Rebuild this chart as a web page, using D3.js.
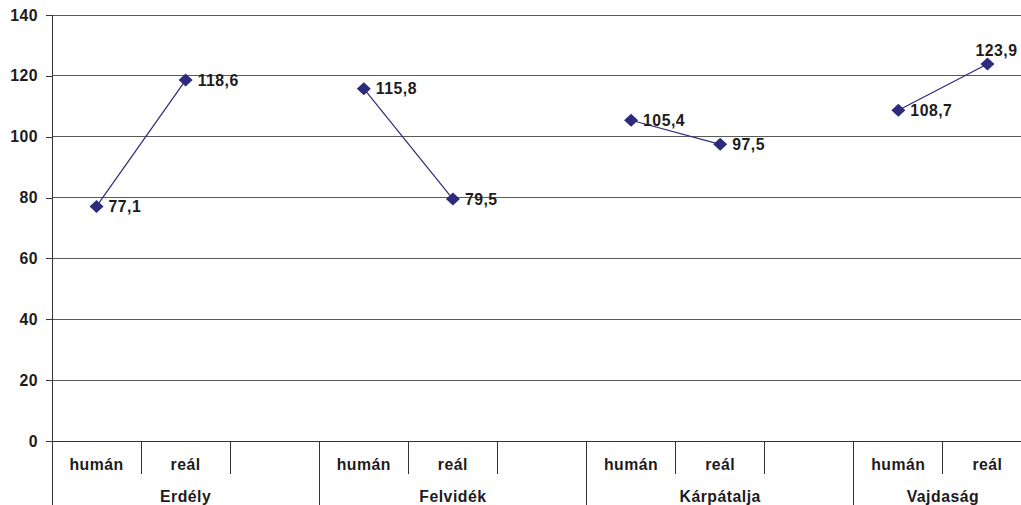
<!DOCTYPE html>
<html><head><meta charset="utf-8">
<script src="https://cdn.jsdelivr.net/npm/d3@7"></script>
<style>
body{margin:0;background:#fff;}
text{font-family:"Liberation Sans",Arial,sans-serif;font-weight:bold;fill:#1e1b1c;}
</style></head><body>
<svg id="c" width="1021" height="505"></svg>
<script>
const groups = ["Erdély","Felvidék","Kárpátalja","Vajdaság"];
const subLabels = ["humán","reál",""];
const humanValues = [77.1,115.8,105.4,108.7];
const realValues = [118.6,79.5,97.5,123.9];
const yTicks = [0,20,40,60,80,100,120,140];

// build category list: 3 slots per group, last group only 2
const cats = [];
groups.forEach((g,gi)=>{
  const n = gi===groups.length-1 ? 2 : 3;
  for(let i=0;i<n;i++) cats.push({key:g+"|"+i, group:g, sub:subLabels[i], gi, si:i});
});

const svg = d3.select("#c");
const L=52, R=1032, T=15, B=441;
const x = d3.scaleBand().domain(cats.map(c=>c.key)).range([L,R]).padding(0);
const y = d3.scaleLinear().domain([0,140]).range([B,T]);
const fs = "15.8px", ls = "0.5px";

// gridlines
svg.append("g").selectAll("line").data(yTicks.filter(t=>t>0)).join("line")
  .attr("x1",L).attr("x2",R).attr("y1",d=>y(d)).attr("y2",d=>y(d))
  .attr("stroke","#5a5a5a").attr("stroke-width",1).attr("shape-rendering","crispEdges");

// y axis
const ya = svg.append("g").attr("transform",`translate(${L},0)`)
  .call(d3.axisLeft(y).tickValues(yTicks).tickSize(6).tickPadding(8).tickFormat(d3.format("d")));
ya.select(".domain").remove();
ya.selectAll(".tick line").attr("stroke","#333").attr("shape-rendering","crispEdges");
ya.selectAll(".tick text").style("font-size",fs).style("letter-spacing",ls)
  .style("font-family",null).attr("fill","#1e1b1c");
svg.append("line").attr("x1",L).attr("x2",L).attr("y1",T).attr("y2",505)
  .attr("stroke","#333").attr("shape-rendering","crispEdges");

// x baseline
svg.append("line").attr("x1",L-6).attr("x2",R).attr("y1",y(0)).attr("y2",y(0))
  .attr("stroke","#333").attr("shape-rendering","crispEdges");

// separators
cats.forEach((c,i)=>{
  if(i===0) return;
  const xx = x(c.key);
  const long = c.si===0;
  svg.append("line").attr("x1",xx).attr("x2",xx).attr("y1",y(0)).attr("y2",long?505:474)
    .attr("stroke","#333").attr("shape-rendering","crispEdges");
});

// sub labels
svg.append("g").selectAll("text").data(cats.filter(c=>c.sub)).join("text")
  .attr("x",c=>x(c.key)+x.bandwidth()/2).attr("y",464).attr("dy","0.35em")
  .attr("text-anchor","middle").style("font-size",fs).style("letter-spacing",ls)
  .text(c=>c.sub);

// group labels
groups.forEach((g,gi)=>{
  const gc = cats.filter(c=>c.group===g);
  const x0 = x(gc[0].key), x1 = x(gc[gc.length-1].key)+x.bandwidth();
  svg.append("text").attr("x",(x0+x1)/2).attr("y",496).attr("dy","0.35em")
    .attr("text-anchor","middle").style("font-size",fs).style("letter-spacing",ls).text(g);
});

// data
const pts = [];
groups.forEach((g,gi)=>{
  pts.push({g, key:g+"|0", v:humanValues[gi]});
  pts.push({g, key:g+"|1", v:realValues[gi]});
});
const cx = d=>x(d.key)+x.bandwidth()/2;
const line = d3.line().x(cx).y(d=>y(d.v));
groups.forEach(g=>{
  svg.append("path").datum(pts.filter(p=>p.g===g)).attr("d",line)
    .attr("fill","none").attr("stroke","#2e2a7c").attr("stroke-width",1.2);
});
svg.append("g").selectAll("path").data(pts).join("path")
  .attr("transform",d=>`translate(${cx(d)},${y(d.v)})`)
  .attr("d","M0,-6.5L7,0L0,6.5L-7,0Z").attr("fill","#2e2a7c");

const fmt = v=>d3.format(".1f")(v).replace(".",",");
svg.append("g").selectAll("text").data(pts).join("text")
  .each(function(d,i){
    const last = i===pts.length-1;
    d3.select(this)
      .attr("x", cx(d) + (last? -12 : 12))
      .attr("y", y(d.v) + (last? -14 : 0))
      .attr("dy","0.35em")
      .style("font-size",fs).style("letter-spacing",ls)
      .text(fmt(d.v));
  });
</script>
</body></html>
